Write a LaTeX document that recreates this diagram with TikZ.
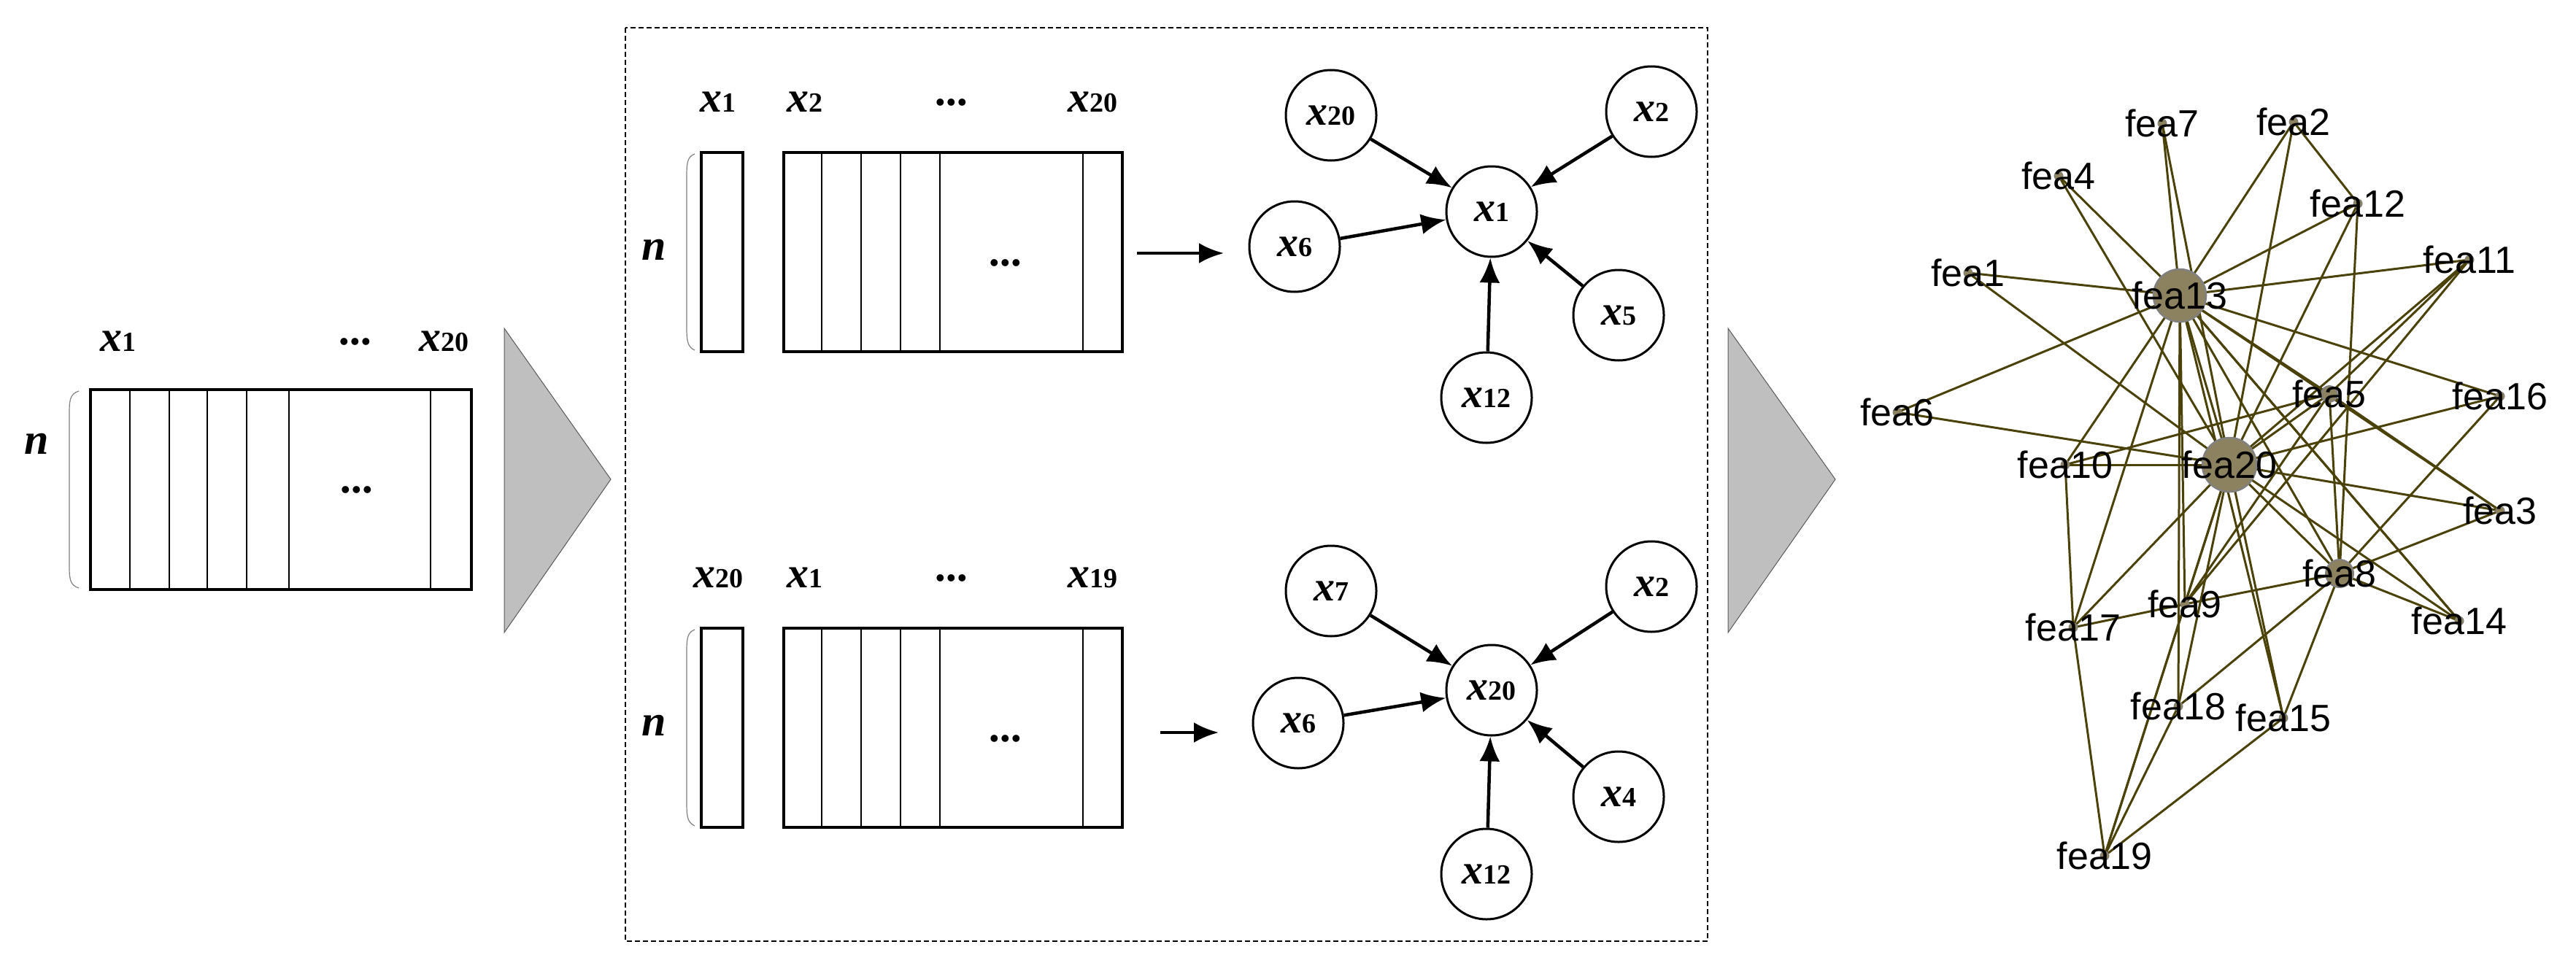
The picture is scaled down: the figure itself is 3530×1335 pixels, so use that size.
\documentclass[tikz,border=0pt]{standalone}
\usepackage{fontspec}
\setmainfont{Liberation Serif}
\newfontfamily\arial{Liberation Sans}
\usetikzlibrary{arrows.meta}
\definecolor{edge}{RGB}{75,66,10}
\definecolor{dotc}{RGB}{140,130,95}
\begin{document}
\begin{tikzpicture}[x=1pt,y=-1pt,
  box/.style={line width=3.5pt},
  thin/.style={line width=2.5pt},
  brace/.style={draw=gray,line width=1.2pt},
  lab/.style={inner sep=0pt,font=\fontsize{60}{60}\selectfont\bfseries\itshape},
  circ/.style={circle,draw,line width=3pt,minimum size=124pt,inner sep=0pt,fill=white,font=\fontsize{58}{58}\selectfont\bfseries\itshape},
  arr/.style={line width=4.5pt,-{Latex[length=34pt,width=28pt]}},
  ge/.style={edge,line width=3pt},
  fl/.style={font=\arial\fontsize{52}{52}\selectfont,inner sep=0pt},
  tri/.style={fill=gray!50,draw=gray!70!black,line width=1pt}]
\newcommand{\xs}[1]{x{\fontsize{38}{38}\selectfont\bfseries\upshape #1}}
\useasboundingbox (0,0) rectangle (3530,1335);
% ---------------- left matrix
\node[lab] (L1) at (162,468) {\xs{1}};
\node[lab] (Ld) at (489,468) {...};
\node[lab] (L20) at (608,468) {\xs{20}};
\node[lab] (Ln) at (50,608) {n};
\draw[box] (124,534) rectangle (646,808);
\foreach \c in {178,232,284,338,396,590} \draw[thin] (\c,534) -- (\c,808);
\node[lab] (Ldd) at (491,671) {...};
\draw[brace] (108,536) .. controls (95,540) and (95,550) .. (95,570) -- (95,772) .. controls (95,792) and (95,802) .. (108,806);
\draw[tri] (691,450) -- (837,657) -- (691,867) -- cycle;
% ---------------- dashed box
\draw[line width=2.2pt,dash pattern=on 7pt off 4pt] (857,38) rectangle (2340,1290);
\foreach \dy/\a/\b/\c in {0/1/2/20, 652/20/1/19}{
  \begin{scope}[yshift=-\dy pt]
  \node[lab] at (984,140) {\xs{\a}};
  \node[lab] at (1103,140) {\xs{\b}};
  \node[lab] at (1306,140) {...};
  \node[lab] at (1497,140) {\xs{\c}};
  \node[lab] at (896,342) {n};
  \draw[box] (961,209) rectangle (1018,482);
  \draw[box] (1074,209) rectangle (1538,482);
  \foreach \c in {1126,1180,1234,1288,1484} \draw[thin] (\c,209) -- (\c,482);
  \node[lab] at (1380,360) {...};
  \draw[brace] (952,211) .. controls (941,215) and (941,225) .. (941,245) -- (941,445) .. controls (941,465) and (941,475) .. (952,480);
  \end{scope}}
\coordinate (a1s) at (1558,347); \coordinate (a1e) at (1677,347);
\draw[arr] (a1s) -- (a1e);
\coordinate (a2s) at (1590,1004); \coordinate (a2e) at (1670,1004);
\draw[arr] (a2s) -- (a2e);
\node[circ] (t1) at (2044,290) {\xs{1}};
\node[circ] (t20) at (1824,158) {\xs{20}};
\node[circ] (t2) at (2263,153) {\xs{2}};
\node[circ] (t6) at (1774,338) {\xs{6}};
\node[circ] (t5) at (2218,432) {\xs{5}};
\node[circ] (t12) at (2037,545) {\xs{12}};
\foreach \s in {t20,t2,t6,t5,t12} \draw[arr] (\s) -- (t1);
\node[circ] (b20) at (2044,946) {\xs{20}};
\node[circ] (b7) at (1824,810) {\xs{7}};
\node[circ] (b2) at (2263,804) {\xs{2}};
\node[circ] (b6) at (1779,991) {\xs{6}};
\node[circ] (b4) at (2218,1092) {\xs{4}};
\node[circ] (b12) at (2037,1198) {\xs{12}};
\foreach \s in {b7,b2,b6,b4,b12} \draw[arr] (\s) -- (b20);
\draw[tri] (2368,450) -- (2515,657) -- (2368,867) -- cycle;
% ---------------- right graph
\foreach \n/\x/\y in {7/2963/169, 2/3143/167, 4/2821/241, 12/3231/279, 11/3384/356, 1/2697/374,
  13/2987/405, 6/2600/565, 5/3192/540, 16/3426/543, 10/2830/637, 20/3055/637, 3/3426/700,
  8/3206/786, 9/2994/828, 14/3370/851, 17/2841/860, 18/2985/968, 15/3129/984, 19/2884/1173}
  \coordinate (f\n) at (\x,\y);
\foreach \a/\b in {13/1,13/4,13/7,13/2,13/12,13/11,13/6,13/16,13/5,13/3,13/14,13/8,13/20,13/9,13/18,13/17,13/10,13/15,
  7/20,4/20,1/20,6/20,2/20,2/12,12/20,12/8,11/20,11/9,11/5,
  10/20,10/5,10/17,17/19,
  20/16,20/3,20/14,20/8,20/15,20/18,20/9,20/17,20/5,20/19,
  5/8,5/9,5/3,8/9,8/16,8/3,8/14,8/15,8/18,9/17,
  19/18,19/9,19/15,14/13}
  \draw[ge] (f\a) -- (f\b);
\foreach \n in {1,2,3,4,6,7,9,10,11,12,14,15,16,17,18,19}
  \node[circle,fill=dotc,draw=gray,line width=1pt,minimum size=12pt,inner sep=0pt] (d\n) at (f\n) {};
\node[circle,fill=dotc,draw=gray,line width=2pt,minimum size=22pt,inner sep=0pt] (d5) at (f5) {};
\node[circle,fill=dotc,draw=gray,line width=2pt,minimum size=38pt,inner sep=0pt] (d8) at (f8) {};
\node[circle,fill=dotc,draw=gray,line width=2.5pt,minimum size=72pt,inner sep=0pt] (d13) at (f13) {};
\node[circle,fill=dotc,draw=gray,line width=2.5pt,minimum size=74pt,inner sep=0pt] (d20) at (f20) {};
\foreach \n in {1,...,20} \node[fl] (l\n) at (f\n) {fea\n};
\end{tikzpicture}
\end{document}
